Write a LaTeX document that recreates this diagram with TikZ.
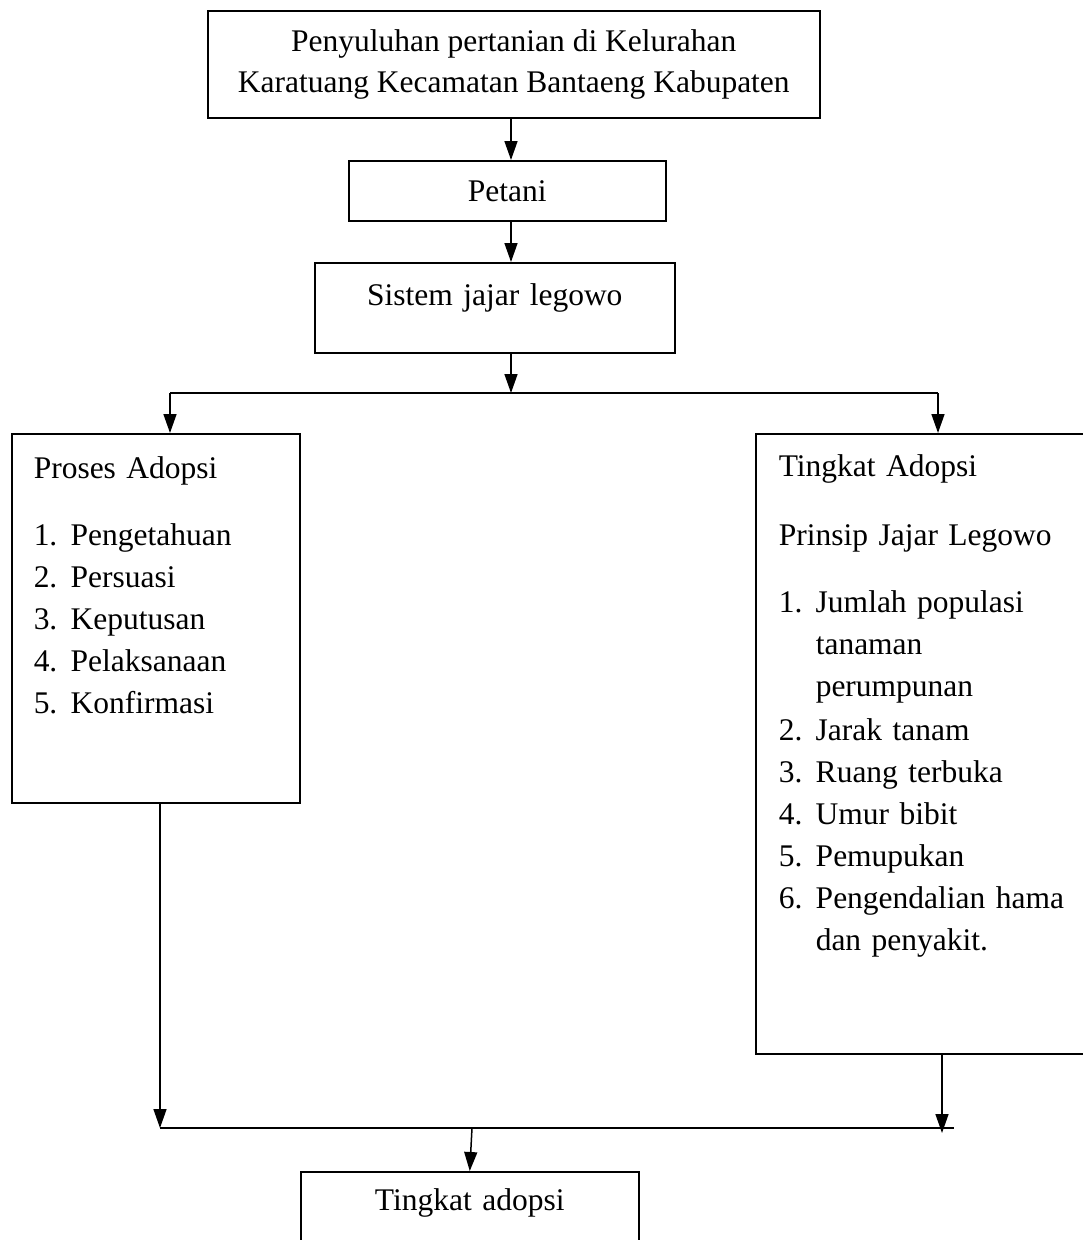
\documentclass[tikz,border=0pt]{standalone}
\usepackage{fontspec}
\setmainfont{Liberation Serif}
\usepackage{tikz}
\usetikzlibrary{arrows.meta}

\tikzset{
  kotak/.style={draw, line width=1.5pt, rectangle, inner sep=0pt, align=center},
  daftar/.style={kotak, anchor=north west, align=left, inner xsep=22pt},
  panah/.style={line width=1.5pt, -{Triangle[length=19pt,width=13pt]}},
  garis/.style={line width=1.5pt}
}
\newcommand{\butir}[2]{\makebox[37pt][l]{#1}#2}

\begin{document}
\begin{tikzpicture}[x=1pt,y=1pt,font=\fontsize{31.5}{42}\selectfont]
\useasboundingbox (0,0) rectangle (1083,-1240);
\clip (0,0) rectangle (1083,-1240);
% kotak atas
\node[kotak, anchor=north west, minimum width=612pt, minimum height=107pt] (penyuluhan) at (207,-10)
  {Penyuluhan pertanian di Kelurahan\\[-1pt]Karatuang Kecamatan Bantaeng Kabupaten};
\node[kotak, anchor=north west, minimum width=317pt, minimum height=60pt] (petani) at (348,-160) {Petani};
\node[kotak, anchor=north west, text width=360pt, text height=43pt, text depth=47pt] (sistem) at (314,-262) {Sistem jajar legowo};
% titik bantu
\coordinate (tengah) at (511,-393);
\coordinate (cabangL) at (170,-393);
\coordinate (cabangR) at (938,-393);
% kotak kiri dan kanan
\node[daftar, text width=244pt, text height=45pt, text depth=324pt] (proses) at (11,-433)
  {Proses Adopsi\\[25pt]
   \butir{1.}{Pengetahuan}\\
   \butir{2.}{Persuasi}\\
   \butir{3.}{Keputusan}\\
   \butir{4.}{Pelaksanaan}\\
   \butir{5.}{Konfirmasi}};
\node[daftar, inner xsep=23pt, text width=420pt, text height=43pt, text depth=577pt] (tingkat) at (755,-433)
  {Tingkat Adopsi\\[27pt]
   Prinsip Jajar Legowo\\[25pt]
   \butir{1.}{Jumlah populasi}\\
   \hspace*{37pt}tanaman\\
   \hspace*{37pt}perumpunan\\[2pt]
   \butir{2.}{Jarak tanam}\\
   \butir{3.}{Ruang terbuka}\\
   \butir{4.}{Umur bibit}\\
   \butir{5.}{Pemupukan}\\
   \butir{6.}{Pengendalian hama}\\
   \hspace*{37pt}dan penyakit.};
% kotak bawah
\coordinate (gabungL) at (160,-1128);
\coordinate (gabungM) at (472,-1128);
\coordinate (gabungR) at (954,-1128);
\coordinate (ujungR) at (942,-1133);
\node[kotak, anchor=north west, text width=338pt, text height=39pt, text depth=80pt] (hasil) at (300,-1171) {Tingkat adopsi};
% panah
\draw[panah] (penyuluhan.south -| tengah) -- (petani.north -| tengah);
\draw[panah] (petani.south -| tengah) -- (sistem.north -| tengah);
\draw[panah] (sistem.south -| tengah) -- (tengah);
\draw[garis] (cabangL) -- (cabangR);
\draw[panah] (cabangL) -- (cabangL |- proses.north);
\draw[panah] (cabangR) -- (cabangR |- tingkat.north);
\draw[panah] (proses.south -| gabungL) -- (gabungL);
\draw[panah] (tingkat.south -| ujungR) -- (ujungR);
\draw[garis] (gabungL) -- (gabungR);
\draw[panah] (gabungM) -- (hasil.north);
\end{tikzpicture}
\end{document}
